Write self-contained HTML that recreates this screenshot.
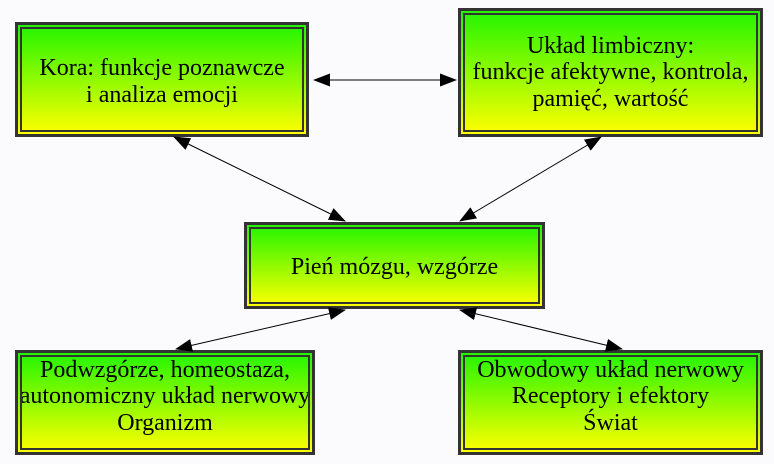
<!DOCTYPE html>
<html><head><meta charset="utf-8"><style>
body{margin:0;width:774px;height:464px;background:#fbfbfe;position:relative;overflow:hidden;font-family:"Liberation Serif",serif}
.b{position:absolute;box-sizing:border-box;border:3px solid #333;background:linear-gradient(#22f500,#ffff00);display:flex;align-items:center;justify-content:center;text-align:center;font-size:24px;line-height:26.5px;color:#000;white-space:nowrap}
.b::after{content:"";position:absolute;left:2px;top:2px;right:2px;bottom:2px;border:2px solid #333}
svg{position:absolute;left:0;top:0}
</style></head><body>
<div class="b" style="left:15px;top:22px;width:294px;height:115px;padding-top:4px">Kora: funkcje poznawcze<br>i analiza emocji</div>
<div class="b" style="left:458px;top:8px;width:305px;height:129px">Układ limbiczny:<br>funkcje afektywne, kontrola,<br>pamięć, wartość</div>
<div class="b" style="left:244px;top:222px;width:301px;height:87px;padding-top:3px">Pień mózgu, wzgórze</div>
<div class="b" style="left:15px;top:350px;width:300px;height:105px;padding-bottom:12px">Podwzgórze, homeostaza,<br>autonomiczny układ nerwowy<br>Organizm</div>
<div class="b" style="left:458px;top:350px;width:305px;height:105px;padding-bottom:12px">Obwodowy układ nerwowy<br>Receptory i efektory<br>Świat</div>
<svg width="774" height="464">
<defs><marker id="a" markerWidth="17" markerHeight="13" refX="16" refY="6.5" orient="auto-start-reverse" markerUnits="userSpaceOnUse"><path d="M0,0L17,6.5L0,13z" fill="#000"/></marker></defs>
<g stroke="#000" stroke-width="1" marker-start="url(#a)" marker-end="url(#a)">
<line x1="314" y1="80" x2="456" y2="80"/>
<line x1="174" y1="137" x2="345" y2="221"/>
<line x1="601" y1="137" x2="460" y2="221"/>
<line x1="345" y1="310" x2="176" y2="349"/>
<line x1="460" y1="310" x2="622" y2="349"/>
</g></svg>
</body></html>
